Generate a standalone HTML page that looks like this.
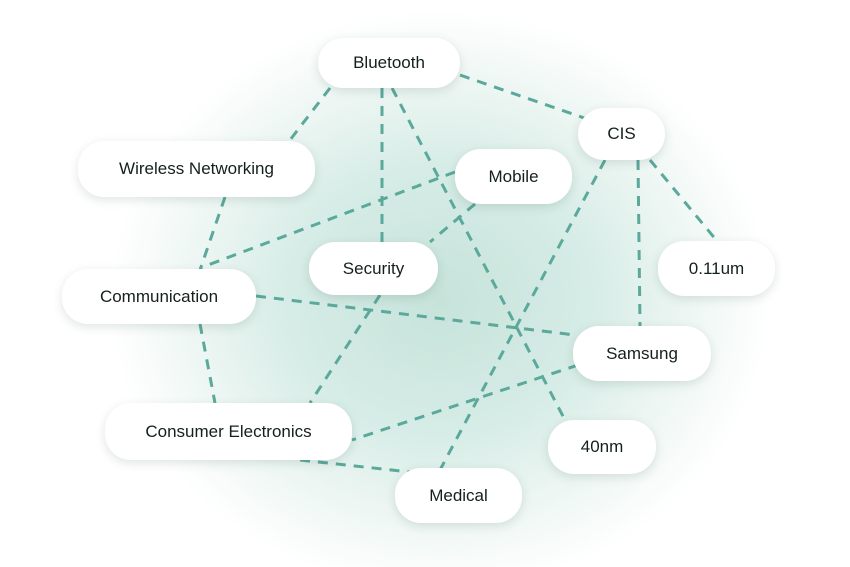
<!DOCTYPE html>
<html><head><meta charset="utf-8"><style>
html,body{margin:0;padding:0;}
body{width:850px;height:567px;position:relative;overflow:hidden;background:#fff;font-family:"Liberation Sans",sans-serif;}
.bg{position:absolute;left:0;top:0;width:850px;height:567px;background:radial-gradient(ellipse 330px 290px at 440px 300px,#c6e3da 0%,#d6ece6 45%,#edf6f3 75%,#ffffff 100%);}
svg{position:absolute;left:0;top:0;}
.n{position:absolute;background:#fff;border-radius:26px;box-shadow:0 3px 10px rgba(40,80,70,0.15);display:flex;align-items:center;justify-content:center;font-size:17px;color:#14201e;}
</style></head><body>
<div class="bg"></div>
<svg width="850" height="567"><g stroke="#5ba99b" stroke-width="3" stroke-dasharray="10 8" fill="none">
<line x1="460" y1="75" x2="590" y2="120"/>
<line x1="330" y1="88" x2="290" y2="140"/>
<line x1="225" y1="197" x2="200" y2="270"/>
<line x1="200" y1="324" x2="215" y2="403"/>
<line x1="382" y1="88" x2="382" y2="242"/>
<line x1="392" y1="88" x2="565" y2="420"/>
<line x1="455" y1="172" x2="200" y2="268"/>
<line x1="475" y1="204" x2="430" y2="242"/>
<line x1="380" y1="295" x2="310" y2="403"/>
<line x1="256" y1="296" x2="575" y2="335"/>
<line x1="605" y1="160" x2="440" y2="470"/>
<line x1="638" y1="160" x2="640" y2="326"/>
<line x1="650" y1="160" x2="717" y2="241"/>
<line x1="578" y1="365" x2="352" y2="440"/>
<line x1="300" y1="460" x2="410" y2="472"/>
</g></svg>
<div class="n" style="left:318px;top:38px;width:142px;height:50px">Bluetooth</div>
<div class="n" style="left:578px;top:108px;width:87px;height:52px">CIS</div>
<div class="n" style="left:78px;top:141px;width:237px;height:56px">Wireless Networking</div>
<div class="n" style="left:455px;top:149px;width:117px;height:55px">Mobile</div>
<div class="n" style="left:309px;top:242px;width:129px;height:53px">Security</div>
<div class="n" style="left:658px;top:241px;width:117px;height:55px">0.11um</div>
<div class="n" style="left:62px;top:269px;width:194px;height:55px">Communication</div>
<div class="n" style="left:573px;top:326px;width:138px;height:55px">Samsung</div>
<div class="n" style="left:105px;top:403px;width:247px;height:57px">Consumer Electronics</div>
<div class="n" style="left:548px;top:420px;width:108px;height:54px">40nm</div>
<div class="n" style="left:395px;top:468px;width:127px;height:55px">Medical</div>
</body></html>
